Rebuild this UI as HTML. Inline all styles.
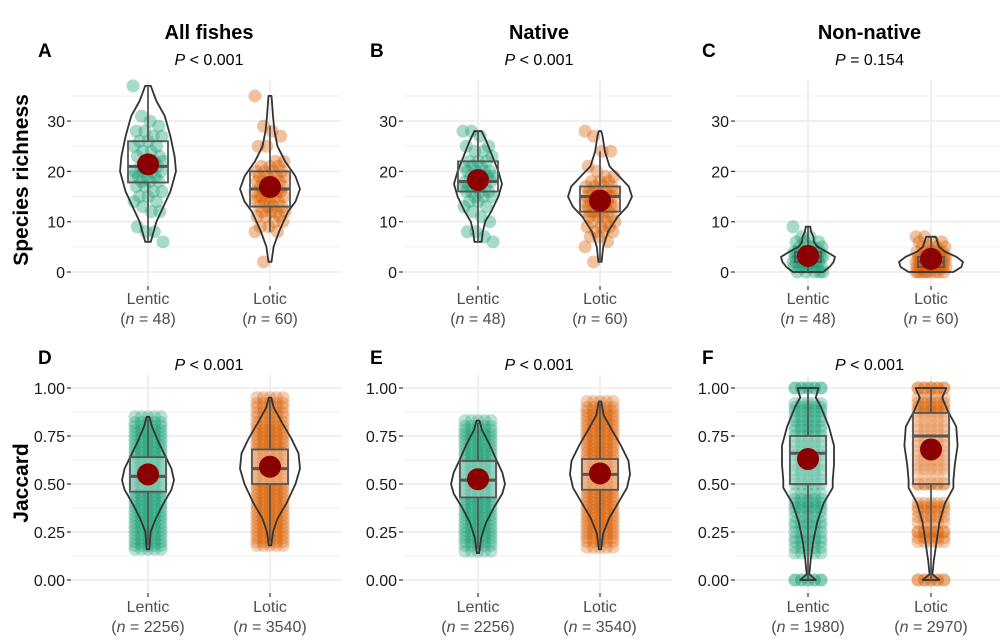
<!DOCTYPE html>
<html><head><meta charset="utf-8"><style>
body{margin:0;background:#fff;}
svg{display:block;font-family:"Liberation Sans",Arial,sans-serif;}
</style></head><body>
<svg id="c" width="1001" height="642" viewBox="0 0 1001 642" xmlns="http://www.w3.org/2000/svg"></svg>
<script>
// ---- data ----
const panelIds=["A","B","C","D","E","F"];
const panelTitles=["All fishes","Native","Non-native","","",""];
const pTexts=["< 0.001","< 0.001","= 0.154","< 0.001","< 0.001","< 0.001"];
const categories=["Lentic","Lotic"];
const nLabels=[["48","60"],["48","60"],["48","60"],["2256","3540"],["2256","3540"],["1980","2970"]];
const topTicks=[0,10,20,30];
const botTicks=[0,0.25,0.5,0.75,1];
const botTickLabels=["0.00","0.25","0.50","0.75","1.00"];
// box stats [lowWhisker,q1,median,q3,highWhisker]
const boxStats=[
 [[6,17.8,21,26,37],[8,13,16.5,20,29]],
 [[6,16,18,22,28],[2,12,15,17,24]],
 [[0,2,3,4,9],[0,1,2,3,7]],
 [[0.18,0.46,0.54,0.64,0.84],[0.2,0.5,0.58,0.68,0.94]],
 [[0.16,0.43,0.52,0.62,0.82],[0.17,0.47,0.55,0.63,0.93]],
 [[0,0.5,0.66,0.75,1],[0,0.5,0.75,0.87,1]]];
const means=[[21.4,16.9],[18.3,14.2],[3.2,2.6],[0.55,0.59],[0.525,0.555],[0.63,0.68]];
// violin profiles: values and relative densities
const violinVals=[
 [[6,8,10,13,16,20,23,27,31,34,37],[2,5,8,12,14,16.5,19,22,25,28,31,35]],
 [[6,8,10,12,15,17.5,20,23,26,28],[2,5,8,11,13,15,17,19,21,24,27,28]],
 [[0,1,2,3,4,5,6,7,8,9],[0,1,2,3,4,5,6,7]],
 [[0.16,0.25,0.32,0.4,0.47,0.52,0.58,0.65,0.72,0.8,0.85],[0.18,0.25,0.32,0.4,0.5,0.58,0.66,0.74,0.82,0.9,0.95]],
 [[0.14,0.22,0.3,0.38,0.45,0.5,0.56,0.62,0.7,0.78,0.83],[0.16,0.24,0.32,0.4,0.48,0.55,0.62,0.7,0.78,0.86,0.93]],
 [[0,0.03,0.1,0.2,0.3,0.4,0.48,0.52,0.6,0.7,0.8,0.9,0.95,1],[0,0.03,0.1,0.2,0.3,0.4,0.48,0.52,0.6,0.7,0.8,0.88,0.95,1]]];
const violinDens=[
 [[0.1,0.2,0.3,0.55,0.8,1,0.95,0.8,0.6,0.3,0.1],[0.05,0.12,0.3,0.6,0.85,1,0.85,0.5,0.25,0.15,0.1,0.05]],
 [[0.15,0.2,0.3,0.55,0.85,1,0.85,0.6,0.35,0.15],[0.05,0.1,0.25,0.55,0.85,1,0.9,0.6,0.3,0.15,0.08,0.04]],
 [[0.55,0.8,0.95,1,0.7,0.35,0.22,0.2,0.12,0.08],[0.7,0.95,1,0.8,0.45,0.25,0.2,0.15]],
 [[0.05,0.1,0.3,0.6,0.9,1,0.9,0.65,0.4,0.15,0.05],[0.04,0.1,0.25,0.55,0.85,1,0.95,0.7,0.4,0.12,0.04]],
 [[0.04,0.12,0.3,0.6,0.9,1,0.9,0.7,0.45,0.15,0.05],[0.04,0.1,0.3,0.6,0.9,1,0.95,0.7,0.4,0.12,0.04]],
 [[0.3,0.05,0.1,0.2,0.35,0.6,0.95,0.95,1,1,0.8,0.5,0.3,0.4],[0.3,0.05,0.1,0.2,0.3,0.5,0.8,0.8,0.85,0.95,0.9,0.6,0.4,0.55]]];
const violinMax=[[28,30],[24,32],[27,32],[26,30],[27,30],[26,28]];
// point values (top row: individual sites; bottom: sampled ranges)
const pointVals=[
 [[37,31,30,29,28,28,27,27,26,26,25,25,24,24,23,23,22,22,22,21,21,21,20,20,20,20,19,19,19,19,18,18,18,17,17,16,16,15,15,14,14,13,12,12,9,8,8,6],
  [35,29,28,27,25,25,22,22,21,21,21,20,20,20,20,19,19,19,19,18,18,18,18,17,17,17,17,17,16,16,16,16,16,15,15,15,15,15,14,14,14,14,13,13,13,13,12,12,12,12,11,11,11,10,10,9,9,8,8,2]],
 [[28,28,27,25,25,24,24,23,22,22,22,21,21,21,20,20,20,20,19,19,19,19,18,18,18,18,17,17,17,17,16,16,16,16,15,15,15,14,14,13,13,12,11,10,8,8,7,6],
  [28,27,24,24,21,20,19,19,18,18,18,17,17,17,17,16,16,16,16,16,15,15,15,15,15,15,14,14,14,14,14,14,13,13,13,13,13,12,12,12,12,12,11,11,11,11,10,10,10,9,9,9,8,8,8,7,7,6,5,2]],
 [[9,7,7,6,6,6,5,5,5,5,4,4,4,4,4,4,4,3,3,3,3,3,3,3,3,3,3,2,2,2,2,2,2,2,2,2,1,1,1,1,1,1,1,0,0,0,0,0],
  [7,7,6,6,6,5,5,5,5,4,4,4,4,4,4,3,3,3,3,3,3,3,3,3,3,3,2,2,2,2,2,2,2,2,2,2,2,2,2,1,1,1,1,1,1,1,1,1,1,1,1,0,0,0,0,0,0,0,0,0]],
 [[0.85,0.82,0.8,0.78,0.76,0.74,0.72,0.7,0.68,0.66,0.64,0.62,0.6,0.58,0.56,0.54,0.52,0.5,0.48,0.46,0.44,0.42,0.4,0.38,0.36,0.34,0.32,0.3,0.28,0.26,0.24,0.22,0.2,0.18,0.16],
  [0.95,0.92,0.9,0.87,0.85,0.82,0.8,0.78,0.76,0.74,0.72,0.7,0.68,0.66,0.64,0.62,0.6,0.58,0.56,0.54,0.52,0.5,0.48,0.46,0.44,0.42,0.4,0.38,0.36,0.34,0.32,0.3,0.28,0.26,0.24,0.22,0.2,0.18]],
 [[0.83,0.8,0.78,0.76,0.74,0.72,0.7,0.68,0.66,0.64,0.62,0.6,0.58,0.56,0.54,0.52,0.5,0.48,0.46,0.44,0.42,0.4,0.38,0.36,0.34,0.32,0.3,0.28,0.26,0.24,0.22,0.2,0.18,0.15],
  [0.93,0.9,0.88,0.86,0.84,0.82,0.8,0.78,0.76,0.74,0.72,0.7,0.68,0.66,0.64,0.62,0.6,0.58,0.56,0.54,0.52,0.5,0.48,0.46,0.44,0.42,0.4,0.38,0.36,0.34,0.32,0.3,0.28,0.26,0.24,0.22,0.2,0.17]],
 [[1,1,0.92,0.9,0.88,0.85,0.83,0.8,0.78,0.75,0.72,0.7,0.67,0.65,0.62,0.6,0.57,0.55,0.52,0.5,0.45,0.42,0.4,0.38,0.36,0.33,0.3,0.28,0.25,0.22,0.2,0.17,0.14,0,0],
  [1,1,0.95,0.92,0.9,0.88,0.86,0.83,0.8,0.78,0.75,0.72,0.7,0.67,0.65,0.62,0.6,0.58,0.55,0.5,0.5,0.4,0.38,0.36,0.33,0.3,0.25,0.25,0.22,0.2,0,0]]];

// ---- layout ----
const S="http://www.w3.org/2000/svg";
const svg=document.getElementById('c');
function mk(tag,attrs,parent){const e=document.createElementNS(S,tag);for(const k in attrs)e.setAttribute(k,attrs[k]);(parent||svg).appendChild(e);return e;}
const colX=[[72,341],[404,672],[736,1000]];
const catX=[[148,270],[478,600],[808,931]];
const colors=["#1b9e77","#d95f02"];
function yTop(v){return 272-v*5.03;}
function yBot(v){return 580-v*192;}

mk('text',{x:28,y:180,'font-size':21,'font-weight':'bold','text-anchor':'middle',transform:'rotate(-90 28 180)',fill:'#000',}).textContent='Species richness';
mk('text',{x:28,y:483,'font-size':21,'font-weight':'bold','text-anchor':'middle',transform:'rotate(-90 28 483)',fill:'#000',}).textContent='Jaccard';

for(let p=0;p<6;p++){
  const col=p%3, top=p<3;
  const ys=top?yTop:yBot;
  const g=mk('g',{});
  
  
  const [x0,x1]=colX[col];
  const gy0=top?80:375, gy1=top?285:592;
  const minors=top?[5,15,25,35]:[0.125,0.375,0.625,0.875];
  minors.forEach(v=>mk('line',{x1:x0,x2:x1,y1:ys(v),y2:ys(v),stroke:'#efefef','stroke-width':1},g));
  const ticks=top?topTicks:botTicks;
  ticks.forEach((v,i)=>{
    mk('line',{x1:x0,x2:x1,y1:ys(v),y2:ys(v),stroke:'#ebebeb','stroke-width':1.6},g);
    mk('line',{x1:x0-5,x2:x0-1,y1:ys(v),y2:ys(v),stroke:'#333','stroke-width':1.2},g);
    const t=mk('text',{x:x0-7,y:ys(v)+6,'font-size':16,'text-anchor':'end',fill:'#1a1a1a'},g);
    
    
    t.textContent=top?String(v):botTickLabels[i];
  });
  catX[col].forEach(cx=>{
    mk('line',{x1:cx,x2:cx,y1:gy0,y2:gy1,stroke:'#ebebeb','stroke-width':1.6},g);
    mk('line',{x1:cx,x2:cx,y1:gy1+1,y2:gy1+5,stroke:'#333','stroke-width':1.2},g);
  });
  const lx=x0-34;
  const L=mk('text',{x:lx,y:top?57:364,'font-size':19,'font-weight':'bold',fill:'#000'},g);
  
  
  L.textContent=panelIds[p];
  const mid=(catX[col][0]+catX[col][1])/2;
  if(panelTitles[p]){
    const T=mk('text',{x:mid,y:39,'font-size':20,'font-weight':'bold','text-anchor':'middle',fill:'#000'},g);
    
    
    T.textContent=panelTitles[p];
  }
  const P=mk('text',{x:mid,y:top?65:370,'font-size':16,'text-anchor':'middle',fill:'#000'},g);
  
  
  P.innerHTML='<tspan font-style="italic">P</tspan> '+pTexts[p];
  for(let c=0;c<2;c++){
    const cx=catX[col][c], color=colors[c];
    const xl=mk('text',{x:cx,y:top?304:612,'font-size':16,'text-anchor':'middle',fill:'#4d4d4d'},g);
    
    
    xl.textContent=categories[c];
    const nl=mk('text',{x:cx,y:top?324:632,'font-size':16,'text-anchor':'middle',fill:'#4d4d4d'},g);
    
    
    nl.innerHTML='(<tspan font-style="italic">n</tspan> = '+nLabels[p][c]+')';
    const pv=pointVals[p][c];
    const pg=mk('g',{fill:color,'fill-opacity':top?0.38:0.3},g);
    
    
    if(top){
      pv.forEach((v,i)=>{
        const off=(((i*37)%29)/28-0.5)*30;
        const pt=mk('circle',{cx:cx+off,cy:ys(v),r:6.5},pg);
        
        
      });
    } else {
      pv.forEach((v,i)=>{
        [-13,-6.5,0,6.5,13].forEach(o=>{
          const pt=mk('circle',{cx:cx+o,cy:ys(v),r:6.5},pg);
          
          
        });
      });
    }
    const vv=violinVals[p][c], vd=violinDens[p][c], mw=violinMax[p][c];
    let right=vv.map((v,i)=>[cx+vd[i]*mw,ys(v)]);
    let left=vv.map((v,i)=>[cx-vd[i]*mw,ys(v)]).reverse();
    const pts=right.concat(left).map(a=>a[0].toFixed(1)+','+a[1].toFixed(1)).join(' ');
    const vi=mk('polygon',{points:pts,fill:'none',stroke:'#333','stroke-width':1.8,'stroke-linejoin':'round'},g);
    
    
    const b=boxStats[p][c], bw=top?(col==2?13:20):18;
    const bg=mk('g',{},g);
    
    
    mk('line',{x1:cx,x2:cx,y1:ys(b[0]),y2:ys(b[1]),stroke:'#555','stroke-width':1.8},bg);
    mk('line',{x1:cx,x2:cx,y1:ys(b[3]),y2:ys(b[4]),stroke:'#555','stroke-width':1.8},bg);
    mk('rect',{x:cx-bw,y:ys(b[3]),width:2*bw,height:ys(b[1])-ys(b[3]),fill:top?'none':'#fff','fill-opacity':0.3,stroke:'#555','stroke-width':1.8},bg);
    mk('line',{x1:cx-bw,x2:cx+bw,y1:ys(b[2]),y2:ys(b[2]),stroke:'#555','stroke-width':3},bg);
    const m=mk('circle',{cx:cx,cy:ys(means[p][c]),r:11,fill:'#8b0000'},g);
    
    
  }
}
</script>
</body></html>
